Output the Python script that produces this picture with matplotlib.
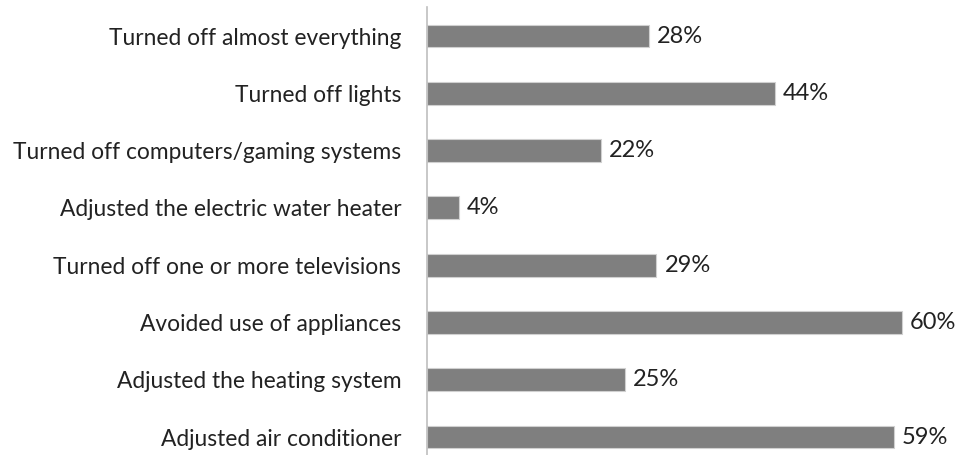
import matplotlib
matplotlib.use('Agg')
from matplotlib import pyplot as plt

# survey answers, top to bottom
labels = ['Turned off almost everything', 'Turned off lights',
          'Turned off computers/gaming systems', 'Adjusted the electric water heater',
          'Turned off one or more televisions', 'Avoided use of appliances',
          'Adjusted the heating system', 'Adjusted air conditioner']
values = [28, 44, 22, 4, 29, 60, 25, 59]

plt.rcParams['font.family'] = ['Lato', 'DejaVu Sans']

fig = plt.figure(figsize=(9.62, 4.55), dpi=100)
ax = fig.add_axes([427/962, 0.0, 1 - 427/962 - 0.005, 1 - 7.4/455])

pos = list(range(len(labels)))
ax.barh(pos, values, height=0.4, color='#7f7f7f', edgecolor='#d0d0d0', linewidth=0.8)
for p, v in zip(pos, values):
    ax.text(v + 1.0, p, f'{v}%', va='center', ha='left', fontsize=17, color='#222222')

ax.set_xlim(0, 67)
ax.set_ylim(7.314, -0.5)
ax.set_yticks(pos)
ax.set_yticklabels(labels, fontsize=16.4, color='#222222')
ax.tick_params(axis='y', length=0, pad=18.5)
ax.set_xticks([])
for s in ['top', 'right', 'bottom']:
    ax.spines[s].set_visible(False)
ax.spines['left'].set_color('#bfbfbf')
ax.spines['left'].set_linewidth(1.2)

fig.savefig('out.png', dpi=100)
